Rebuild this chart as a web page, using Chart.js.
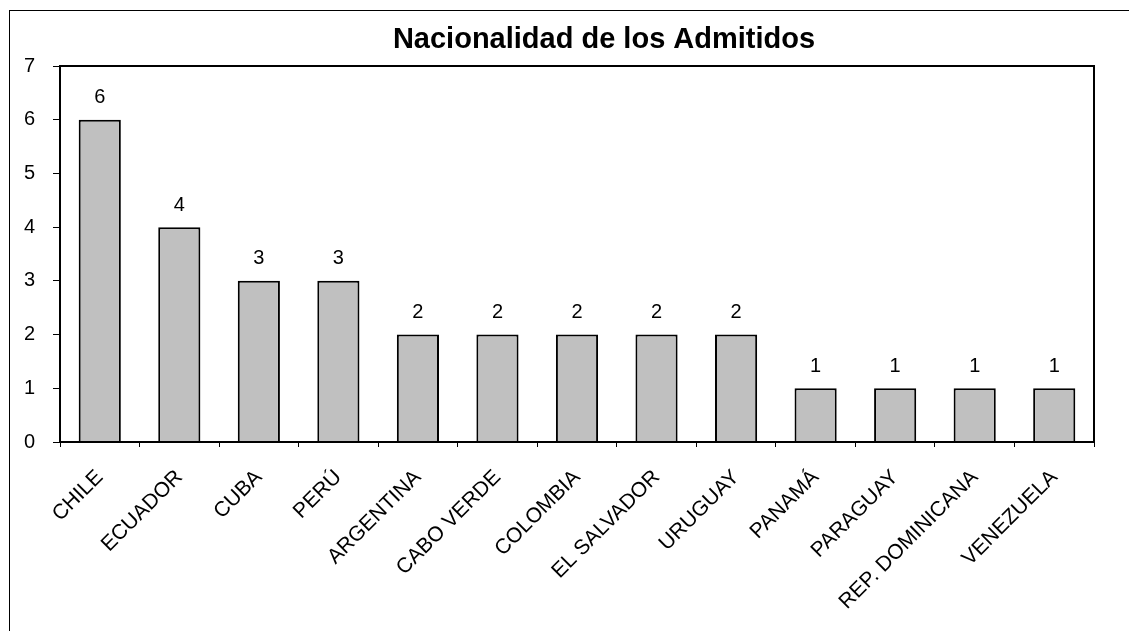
<!DOCTYPE html>
<html><head><meta charset="utf-8">
<script src="https://cdn.jsdelivr.net/npm/chart.js@4/dist/chart.umd.min.js"></script>
<style>html,body{margin:0;padding:0;background:#fff}#c{display:block}</style>
</head><body>
<canvas id="c" width="1129" height="631"></canvas>
<script>
const categories = ["CHILE","ECUADOR","CUBA","PERÚ","ARGENTINA","CABO VERDE","COLOMBIA","EL SALVADOR","URUGUAY","PANAMÁ","PARAGUAY","REP. DOMINICANA","VENEZUELA"];
const admitidos = [6,4,3,3,2,2,2,2,2,1,1,1,1];
const yTicks = [0,1,2,3,4,5,6,7];
const titleText = "Nacionalidad de los Admitidos";
const FONT = "'Liberation Sans', Arial, sans-serif";

const decor = {
  id: 'decor',
  beforeDraw(chart) {
    const ctx = chart.ctx;
    ctx.save();
    ctx.fillStyle = '#fff';
    ctx.fillRect(0,0,chart.width,chart.height);
    ctx.strokeStyle = '#000';
    ctx.lineWidth = 1;
    ctx.strokeRect(9.5, 10.5, chart.width + 20, chart.height + 20);
    ctx.restore();
  },
  afterDatasetsDraw(chart) {
    const ctx = chart.ctx;
    const a = chart.chartArea;
    ctx.save();
    ctx.strokeStyle = '#000';
    ctx.lineWidth = 2;
    ctx.strokeRect(a.left, a.top, a.right - a.left, a.bottom - a.top);
    // data labels
    const meta = chart.getDatasetMeta(0);
    ctx.fillStyle = '#000';
    ctx.font = '20px ' + FONT;
    ctx.textAlign = 'center';
    ctx.textBaseline = 'middle';
    meta.data.forEach((bar, i) => {
      ctx.fillText(String(admitidos[i]), bar.x, bar.y - 22);
    });
    // title
    ctx.font = 'bold 29px ' + FONT;
    ctx.fillText(titleText, 604, 40);
    ctx.restore();
  }
};

new Chart(document.getElementById('c'), {
  type: 'bar',
  data: {
    labels: categories,
    datasets: [{
      data: admitidos,
      backgroundColor: '#C0C0C0',
      borderColor: '#000',
      borderWidth: 2,
      barPercentage: 0.53,
      categoryPercentage: 1
    }]
  },
  options: {
    responsive: false,
    animation: false,
    layout: { padding: { left: 0, top: 66, right: 35, bottom: 0 } },
    plugins: { legend: { display: false }, tooltip: { enabled: false }, title: { display: false } },
    scales: {
      x: {
        grid: { offset: true, drawOnChartArea: false, tickLength: 5, color: '#000', lineWidth: 1 },
        border: { display: true, color: '#000', width: 2 },
        ticks: { color: '#000', font: { family: FONT, size: 21 }, minRotation: 45, maxRotation: 45, autoSkip: false, padding: 18 },
        afterFit(s) { s.height = 189; }
      },
      y: {
        min: 0, max: 7,
        grid: { drawOnChartArea: false, tickLength: 7, color: '#000', lineWidth: 1 },
        border: { display: true, color: '#000', width: 2 },
        ticks: { color: '#000', font: { family: FONT, size: 20 }, stepSize: 1, padding: 18,
                 callback: (v) => yTicks.includes(v) ? String(v) : '' },
        afterFit(s) { s.width = 60; }
      }
    }
  },
  plugins: [decor]
});
</script>
</body></html>
